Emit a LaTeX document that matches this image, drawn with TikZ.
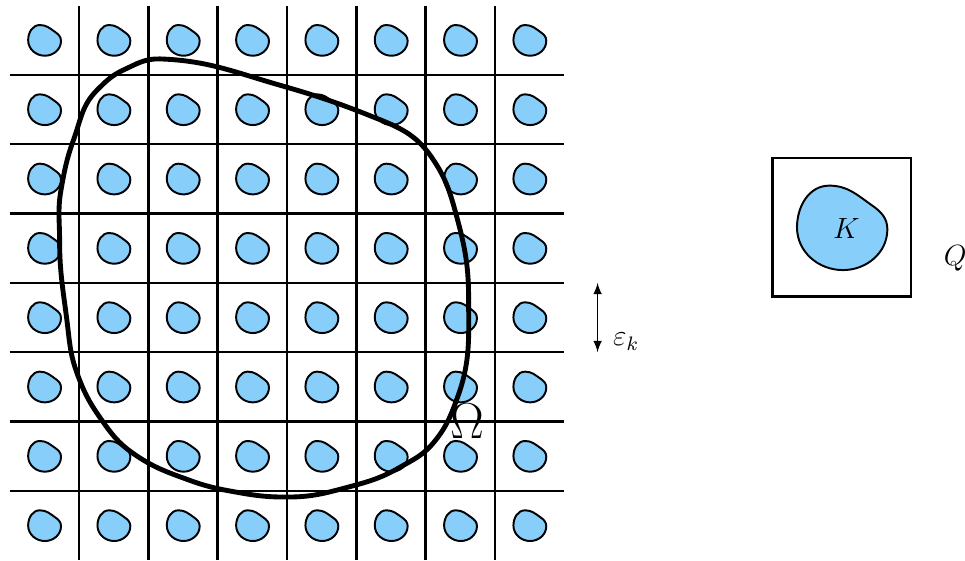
\documentclass[tikz,border=0pt]{standalone}
\usetikzlibrary{arrows}
\definecolor{inclblue}{RGB}{135,206,250}
\tikzset{
  incl/.pic={
    \draw[thick, fill=inclblue] (-0.234,0.0)
      to[out=90,in=180] (-0.065,0.219)
      to[out=0,in=145] (0.16,0.115)
      to[out=-35,in=90] (0.24,-0.01)
      to[out=-90,in=0] (0.007,-0.224)
      to[out=180,in=-90] cycle;
  }
}
\begin{document}
\begin{tikzpicture}[>=latex, scale=1]
            \useasboundingbox (-0.14,0) rectangle (13.78,8.08);
            % grid of period cells
            \foreach \i in {1,...,7} {
                \draw[line width=1pt] (\i,0) -- (\i,8);
                \draw[line width=1pt] (0,\i) -- (8,\i);
            }
            % inclusions
            \foreach \i in {0,...,7} {
                \foreach \j in {0,...,7} {
                    \pic at (\i+0.5,\j+0.5) {incl};
                }
            }
            % the domain
            \draw[line width=2pt] (2.17,7.23)
                to[out=-2,in=164] (3.90,6.85)
                to[out=-16,in=158] (5.35,6.35)
                to[out=-22,in=125] (6.08,5.82)
                to[out=-55,in=105] (6.46,4.91)
                to[out=-75,in=90] (6.62,3.75)
                to[out=-90,in=70] (6.46,2.35)
                to[out=-110,in=50] (6.11,1.69)
                to[out=-130,in=30] (5.63,1.34)
                to[out=-150,in=15] (4.87,1.05)
                to[out=-165,in=0] (4.00,0.91)
                to[out=180,in=-10] (3.33,0.97)
                to[out=170,in=-20] (2.60,1.15)
                to[out=160,in=-35] (1.78,1.54)
                to[out=145,in=-55] (1.30,2.06)
                to[out=125,in=-70] (0.97,2.70)
                to[out=110,in=-83] (0.83,3.42)
                to[out=97,in=-90] (0.72,4.60)
                to[out=90,in=-100] (0.74,5.34)
                to[out=80,in=-110] (0.92,6.06)
                to[out=70,in=-135] (1.26,6.78)
                to[out=45,in=-155] (1.64,7.07)
                to[out=25,in=178] cycle;
            \node (omega) at (6.6,2.0) {\huge $\Omega$};
            % cell size
            \coordinate (epstop) at (8.48,4);
            \coordinate (epsbot) at (8.48,3);
            \draw[<->, line width=0.6pt] (epstop) -- (epsbot);
            \node[right] (eps) at (8.58,3.15) {\large $\varepsilon_k$};
            % reference cell
            \draw[line width=1pt] (11,3.8) rectangle (13,5.8);
            \pic[scale=2.75] at (12.0,4.8) {incl};
            \node (K) at (12.07,4.78) {\large $K$};
            \node (Q) at (13.64,4.36) {\large $Q$};
        \end{tikzpicture}
\end{document}
